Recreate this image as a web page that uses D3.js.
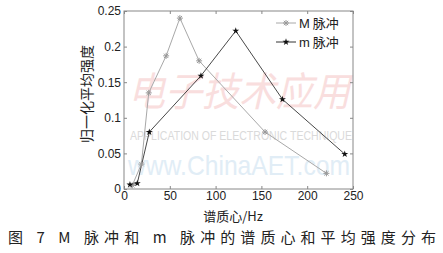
<!DOCTYPE html>
<html>
<head>
<meta charset="utf-8">
<script src="https://cdn.jsdelivr.net/npm/d3@7"></script>
<style>
  body { margin: 0; background: #fff; }
  svg { display: block; }
  text { font-family: "Liberation Sans", Arial, sans-serif; fill: #222; }
  .cjk { font-family: "Noto Sans CJK SC", sans-serif; }
</style>
</head>
<body>
<svg id="chart" width="443" height="253"></svg>
<script>
// M pulse series (gray, asterisk)
const mBigX = [9, 19, 27, 46, 61, 82, 154, 221];
const mBigY = [0.005, 0.035, 0.135, 0.187, 0.240, 0.180, 0.080, 0.022];
// m pulse series (black, star)
const mSmallX = [6.5, 14.5, 27.6, 84, 122, 173, 241];
const mSmallY = [0.006, 0.008, 0.080, 0.159, 0.222, 0.126, 0.049];

const xTicks = [0, 50, 100, 150, 200, 250];
const yTicks = [0, 0.05, 0.1, 0.15, 0.2, 0.25];
const seriesNames = ["M 脉冲", "m 脉冲"];

const svg = d3.select("#chart");
const margin = { top: 11, right: 90, bottom: 64, left: 124 },
    width = 443 - margin.left - margin.right,
    height = 253 - margin.top - margin.bottom;

const x = d3.scaleLinear().domain([0, 250]).range([0, width]);
const y = d3.scaleLinear().domain([0, 0.25]).range([height, 0]);

// faint watermark inside the plot area
const wm = svg.append("g");
wm.append("text").attr("class", "cjk")
    .attr("x", 128).attr("y", 106)
    .attr("textLength", 222).attr("lengthAdjust", "spacingAndGlyphs")
    .style("font-size", "40px").style("font-style", "italic")
    .style("fill", "#f9dede").text("电子技术应用");
wm.append("text")
    .attr("x", 130).attr("y", 140)
    .attr("textLength", 222).attr("lengthAdjust", "spacingAndGlyphs")
    .style("font-size", "12px").style("fill", "#dadada")
    .text("APPLICATION OF ELECTRONIC TECHNIQUE");
wm.append("text")
    .attr("x", 128).attr("y", 175)
    .attr("textLength", 222).attr("lengthAdjust", "spacingAndGlyphs")
    .style("font-size", "28px").style("fill", "#e1edf6")
    .text("www.ChinaAET.com");

const g = svg.append("g").attr("transform", `translate(${margin.left},${margin.top})`);

// box + inward ticks
const axisColor = "#888";
g.append("rect").attr("width", width).attr("height", height)
    .attr("fill", "none").attr("stroke", axisColor).attr("stroke-width", 1);

const xAxis = g.append("g").attr("transform", `translate(0,${height})`)
    .call(d3.axisBottom(x).tickValues(xTicks).tickSizeInner(-3).tickSizeOuter(0).tickPadding(2));
const xTop = g.append("g")
    .call(d3.axisTop(x).tickValues(xTicks).tickSizeInner(-3).tickSizeOuter(0).tickFormat(""));
const yAxis = g.append("g")
    .call(d3.axisLeft(y).tickValues(yTicks).tickSizeInner(-3).tickSizeOuter(0).tickPadding(3)
        .tickFormat(d => d === 0 ? "0" : d3.format("")(d)));
const yRight = g.append("g").attr("transform", `translate(${width},0)`)
    .call(d3.axisRight(y).tickValues(yTicks).tickSizeInner(-3).tickSizeOuter(0).tickFormat(""));

[xAxis, xTop, yAxis, yRight].forEach(a => {
    a.select(".domain").remove();
    a.selectAll("line").attr("stroke", axisColor);
    a.selectAll("text").style("font-size", "12px")
        .style("font-family", "Liberation Sans, Arial, sans-serif").attr("fill", "#222");
});

// lines
const line = d3.line().x(d => x(d[0])).y(d => y(d[1]));
const mBig = mBigX.map((v, i) => [v, mBigY[i]]);
const mSmall = mSmallX.map((v, i) => [v, mSmallY[i]]);

g.append("path").datum(mBig).attr("d", line)
    .attr("fill", "none").attr("stroke", "#a8a8a8").attr("stroke-width", 1);
g.append("path").datum(mSmall).attr("d", line)
    .attr("fill", "none").attr("stroke", "#333").attr("stroke-width", 0.9);

// markers
const asterisk = (sel, cx, cy, r, color) => {
    const a = sel.append("g").attr("transform", `translate(${cx},${cy})`)
        .attr("stroke", color).attr("stroke-width", 1);
    a.append("line").attr("x1", -r).attr("x2", r);
    a.append("line").attr("y1", -r).attr("y2", r);
    const k = r * 0.72;
    a.append("line").attr("x1", -k).attr("y1", -k).attr("x2", k).attr("y2", k);
    a.append("line").attr("x1", -k).attr("y1", k).attr("x2", k).attr("y2", -k);
};
const star = d3.symbol().type(d3.symbolStar).size(15);

mBig.forEach(d => asterisk(g, x(d[0]), y(d[1]), 3, "#999"));
g.selectAll(".star").data(mSmall).enter().append("path")
    .attr("class", "star")
    .attr("transform", d => `translate(${x(d[0])},${y(d[1])})`)
    .attr("d", star).attr("fill", "#111");

// legend
const leg = g.append("g").attr("transform", `translate(${width - 77},12)`);
seriesNames.forEach((name, i) => {
    const row = leg.append("g").attr("transform", `translate(0,${i * 19})`);
    row.append("line").attr("x1", 0).attr("x2", 20)
        .attr("stroke", i === 0 ? "#a8a8a8" : "#333");
    if (i === 0) asterisk(row, 10, 0, 3, "#999");
    else row.append("path").attr("transform", "translate(10,0)").attr("d", star).attr("fill", "#111");
    const t = row.append("text").attr("x", 23).attr("y", 5).style("font-size", "13px");
    t.append("tspan").text(name.split(" ")[0]);
    t.append("tspan").attr("class", "cjk").text(" " + name.split(" ")[1]);
});

// axis titles
svg.append("text").attr("class", "cjk")
    .attr("transform", "translate(92,94) rotate(-90)")
    .attr("text-anchor", "middle").style("font-size", "14px")
    .text("归一化平均强度");
svg.append("text").attr("class", "cjk")
    .attr("x", 233).attr("y", 221).attr("text-anchor", "middle")
    .style("font-size", "13px").text("谱质心/Hz");

// caption
svg.append("text").attr("class", "cjk")
    .attr("x", 8).attr("y", 243)
    .attr("textLength", 428).attr("lengthAdjust", "spacing")
    .style("font-size", "15px")
    .text("图 7  M 脉冲和 m 脉冲的谱质心和平均强度分布");
</script>
</body>
</html>
